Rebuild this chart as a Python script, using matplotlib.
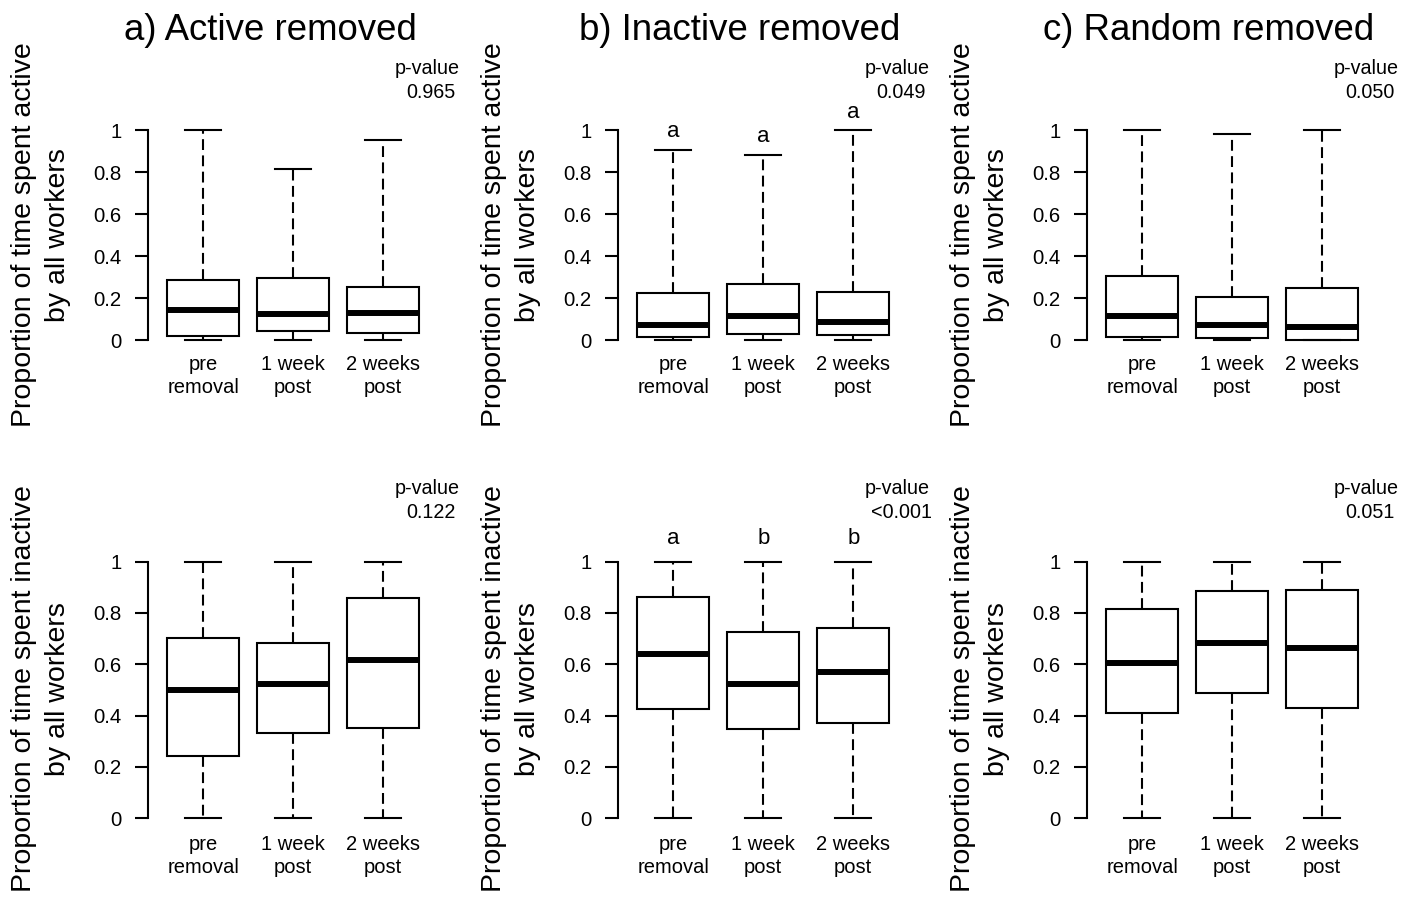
import matplotlib
matplotlib.use("Agg")
import matplotlib.pyplot as plt

plt.rcParams['font.family'] = ['Liberation Sans', 'DejaVu Sans']

W, H, DPI = 1418, 898, 100

# ---------------- data ----------------
groups = ['pre\nremoval', '1 week\npost', '2 weeks\npost']
titles = ['a) Active removed', 'b) Inactive removed', 'c) Random removed']
ylab_top = 'Proportion of time spent active'
ylab_bottom = 'Proportion of time spent inactive'
ylab_line2 = 'by all workers'
yticks = [0, 0.2, 0.4, 0.6, 0.8, 1]
yticklabels = ['0', '0.2', '0.4', '0.6', '0.8', '1']

# Top row: proportion of time active (panels a, b, c; groups pre, 1 wk, 2 wk)
active_whislo = [[0.0, 0.0, 0.0], [0.0, 0.0, 0.0], [0.0, 0.0, 0.0]]
active_q1 = [[0.019, 0.044, 0.032], [0.013, 0.027, 0.024], [0.016, 0.008, 0.0]]
active_med = [[0.143, 0.122, 0.127], [0.071, 0.114, 0.086], [0.116, 0.071, 0.060]]
active_q3 = [[0.284, 0.294, 0.251], [0.222, 0.265, 0.230], [0.306, 0.206, 0.249]]
active_whishi = [[1.0, 0.816, 0.954], [0.906, 0.883, 1.0], [1.0, 0.983, 1.0]]
active_letters = [None, ['a', 'a', 'a'], None]
active_pvalues = ['0.965', '0.049', '0.050']

# Bottom row: proportion of time inactive
inactive_whislo = [[0.0, 0.0, 0.0], [0.0, 0.0, 0.0], [0.0, 0.0, 0.0]]
inactive_q1 = [[0.244, 0.334, 0.351], [0.426, 0.349, 0.373], [0.410, 0.488, 0.429]]
inactive_med = [[0.500, 0.525, 0.617], [0.639, 0.525, 0.569], [0.605, 0.682, 0.662]]
inactive_q3 = [[0.704, 0.683, 0.860], [0.864, 0.726, 0.743], [0.814, 0.887, 0.890]]
inactive_whishi = [[1.0, 1.0, 1.0], [1.0, 1.0, 1.0], [1.0, 1.0, 1.0]]
inactive_letters = [None, ['a', 'b', 'b'], None]
inactive_pvalues = ['0.122', '<0.001', '0.051']

# ---------------- layout (pixels) ----------------
fig = plt.figure(figsize=(W / DPI, H / DPI), dpi=DPI)

def fx(x):
    return x / W

def fy(y):
    return 1 - y / H

box1_centers = [203.3, 673.3, 1142.3]
px_per_unit_x = 90.0
rows = [
    dict(whislo=active_whislo, q1=active_q1, med=active_med, q3=active_q3,
         whishi=active_whishi, letters=active_letters, pvals=active_pvalues,
         ylab=ylab_top, y0=340.0, ppu=210.0, ylim=(-0.04, 1.2), letter_off=0.085,
         pv_y=(67, 92), ylab_y=235),
    dict(whislo=inactive_whislo, q1=inactive_q1, med=inactive_med, q3=inactive_q3,
         whishi=inactive_whishi, letters=inactive_letters, pvals=inactive_pvalues,
         ylab=ylab_bottom, y0=818.3, ppu=256.7, ylim=(-0.04, 1.15), letter_off=0.09,
         pv_y=(487, 511), ylab_y=689),
]
panel_off = [0, 470, 939]

lw = 1.5
for r, row in enumerate(rows):
    for p in range(3):
        c1 = box1_centers[p]
        xl, xr = 0.38, 3.62
        left = c1 + (xl - 1) * px_per_unit_x
        right = c1 + (xr - 1) * px_per_unit_x
        ylo, yhi = row['ylim']
        bottom = row['y0'] - ylo * row['ppu']
        top = row['y0'] - yhi * row['ppu']
        ax = fig.add_axes([fx(left), fy(bottom), fx(right - left), (bottom - top) / H])
        stats = []
        for g in range(3):
            stats.append(dict(whislo=row['whislo'][p][g], q1=row['q1'][p][g],
                              med=row['med'][p][g], q3=row['q3'][p][g],
                              whishi=row['whishi'][p][g], fliers=[]))
        ax.bxp(stats, positions=[1, 2, 3], widths=0.8, capwidths=0.4,
               patch_artist=True, showfliers=False,
               boxprops=dict(facecolor='white', edgecolor='black', linewidth=lw),
               medianprops=dict(color='black', linewidth=4.3, solid_capstyle='butt'),
               whiskerprops=dict(color='black', linewidth=lw, linestyle=(0, (5.2, 2.6))),
               capprops=dict(color='black', linewidth=lw))
        ax.set_xlim(xl, xr)
        ax.set_ylim(ylo, yhi)
        for s in ['top', 'right', 'bottom']:
            ax.spines[s].set_visible(False)
        ax.spines['left'].set_bounds(0, 1)
        ax.spines['left'].set_linewidth(lw)
        ax.set_yticks(yticks)
        ax.set_yticklabels(yticklabels, fontsize=14.7)
        ax.tick_params(axis='y', length=9.6, width=lw, pad=9)
        ax.set_xticks([1, 2, 3])
        ax.set_xticklabels(groups, fontsize=14.5, linespacing=1.31)
        ax.tick_params(axis='x', length=0, pad=4.5)
        ax.patch.set_visible(False)

        letters = row['letters'][p]
        if letters:
            for g in range(3):
                ax.text(g + 1, row['whishi'][p][g] + row['letter_off'], letters[g],
                        ha='center', va='center', fontsize=16, clip_on=False)

        off = panel_off[p]
        fig.text(fx(427.5 + off), fy(row['pv_y'][0] + 1.5), 'p-value', ha='center', va='center', fontsize=14.2)
        fig.text(fx(431 + off), fy(row['pv_y'][1] + 1), row['pvals'][p], ha='center', va='center', fontsize=14.2)

        fig.text(fx(24 + off), fy(row['ylab_y']), row['ylab'], rotation=90,
                 ha='center', va='center', fontsize=20.5)
        fig.text(fx(58 + off), fy(row['ylab_y']), ylab_line2, rotation=90,
                 ha='center', va='center', fontsize=20.5)

for p in range(3):
    fig.text(fx(270 + panel_off[p]), fy(40), titles[p], ha='center', va='baseline', fontsize=26.4)

fig.savefig('out.png', dpi=DPI)
